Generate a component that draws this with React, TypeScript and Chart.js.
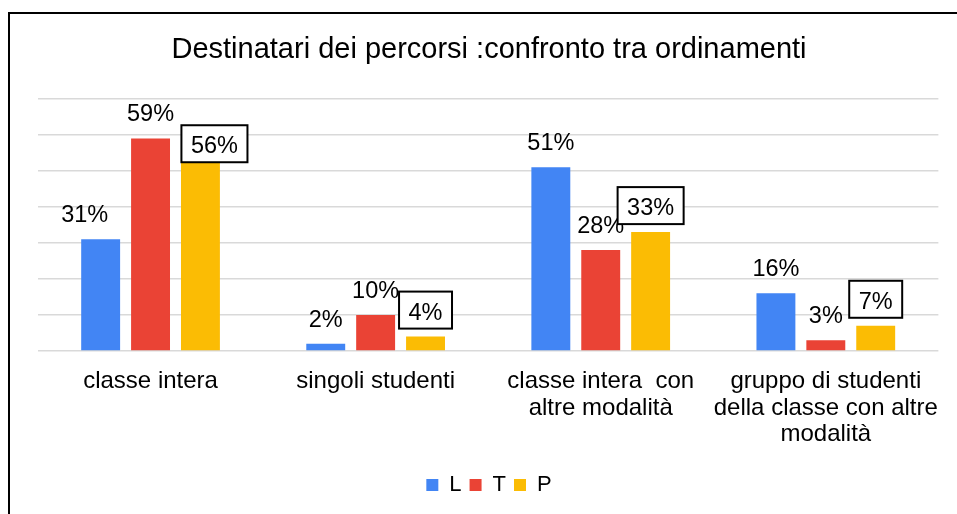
import React, { useEffect, useRef } from "react";
import { Chart, registerables } from "chart.js";

Chart.register(...registerables);

const chartTitle = "Destinatari dei percorsi :confronto tra ordinamenti";
const categories: string[][] = [
  ["classe intera"],
  ["singoli studenti"],
  ["classe intera  con", "altre modalità"],
  ["gruppo di studenti", "della classe con altre", "modalità"],
];
const seriesNames = ["L", "T", "P"];
const valuesL = [31, 2, 51, 16];
const valuesT = [59, 10, 28, 3];
const valuesP = [56, 4, 33, 7];
const yMin = 0;
const yMax = 70;
const yStep = 10;

const FONT = "'Liberation Sans', Arial, sans-serif";
const COLORS = ["#4285F4", "#EA4335", "#FBBC04"];

const labelPlugin = {
  id: "valueLabels",
  afterDatasetsDraw(chart: any) {
    const ctx = chart.ctx;
    ctx.save();
    ctx.font = `23.5px ${FONT}`;
    ctx.fillStyle = "#000";
    ctx.textAlign = "center";
    ctx.textBaseline = "alphabetic";
    chart.data.datasets.forEach((ds: any, di: number) => {
      const meta = chart.getDatasetMeta(di);
      meta.data.forEach((bar: any, i: number) => {
        const txt = `${ds.data[i]}%`;
        const x = bar.x;
        const y = bar.y;
        if (di < 2) {
          const dx = di === 0 && i === 0 ? -16 : 0;
          ctx.fillStyle = "#000";
          ctx.fillText(txt, x + dx, y - 17);
        } else {
          const w = ctx.measureText(txt).width + 19;
          const h = 37;
          let cx = x;
          let bottom = y - 8;
          if (i === 0) {
            cx = x + 14;
            bottom = y + 13;
          }
          ctx.fillStyle = "#fff";
          ctx.fillRect(cx - w / 2, bottom - h, w, h);
          ctx.lineWidth = 2;
          ctx.strokeStyle = "#000";
          ctx.strokeRect(cx - w / 2, bottom - h, w, h);
          ctx.fillStyle = "#000";
          ctx.fillText(txt, cx, bottom - 9);
        }
      });
    });
    ctx.restore();
  },
};

export default function App() {
  const ref = useRef<HTMLCanvasElement>(null);
  useEffect(() => {
    if (!ref.current) return;
    const chart = new Chart(ref.current, {
      type: "bar",
      data: {
        labels: categories,
        datasets: [valuesL, valuesT, valuesP].map((d, k) => ({
          label: seriesNames[k],
          data: d,
          backgroundColor: COLORS[k],
          borderWidth: 0,
          categoryPercentage: 0.665,
          barPercentage: 0.78,
        })),
      },
      options: {
        responsive: false,
        animation: false,
        devicePixelRatio: 1,
        layout: { padding: { left: 38, right: 17, top: 0, bottom: 8 } },
        plugins: {
          title: {
            display: true,
            text: chartTitle,
            color: "#000",
            font: { family: FONT, size: 29, weight: "normal" },
            padding: { top: 33, bottom: 31 },
          },
          legend: {
            display: true,
            position: "bottom",
            labels: {
              boxWidth: 12,
              boxHeight: 12,
              color: "#000",
              font: { family: FONT, size: 22 },
              padding: 8,
            },
          },
          tooltip: { enabled: false },
        },
        scales: {
          x: {
            grid: { display: false, drawTicks: false },
            border: { display: false },
            ticks: {
              color: "#000",
              font: { family: FONT, size: 24, lineHeight: 1.11 },
              padding: 17,
              maxRotation: 0,
              autoSkip: false,
            },
            afterFit: (s: any) => {
              s.height = 115;
            },
          },
          y: {
            min: yMin,
            max: yMax,
            ticks: { display: false, stepSize: yStep },
            grid: { color: "#d9d9d9", lineWidth: 1.5, drawTicks: false },
            border: { display: false },
          },
        },
      },
      plugins: [labelPlugin],
    });
    return () => chart.destroy();
  }, []);
  return (
    <div style={{ position: "absolute", left: 0, top: 0, width: 957, height: 514, background: "#fff", overflow: "hidden" }}>
      <canvas ref={ref} width={957} height={514} style={{ display: "block", width: 957, height: 514 }} />
      <div
        style={{
          position: "absolute",
          left: 8,
          top: 12,
          width: 960,
          height: 520,
          borderLeft: "2px solid #000",
          borderTop: "2px solid #000",
          pointerEvents: "none",
        }}
      />
    </div>
  );
}
